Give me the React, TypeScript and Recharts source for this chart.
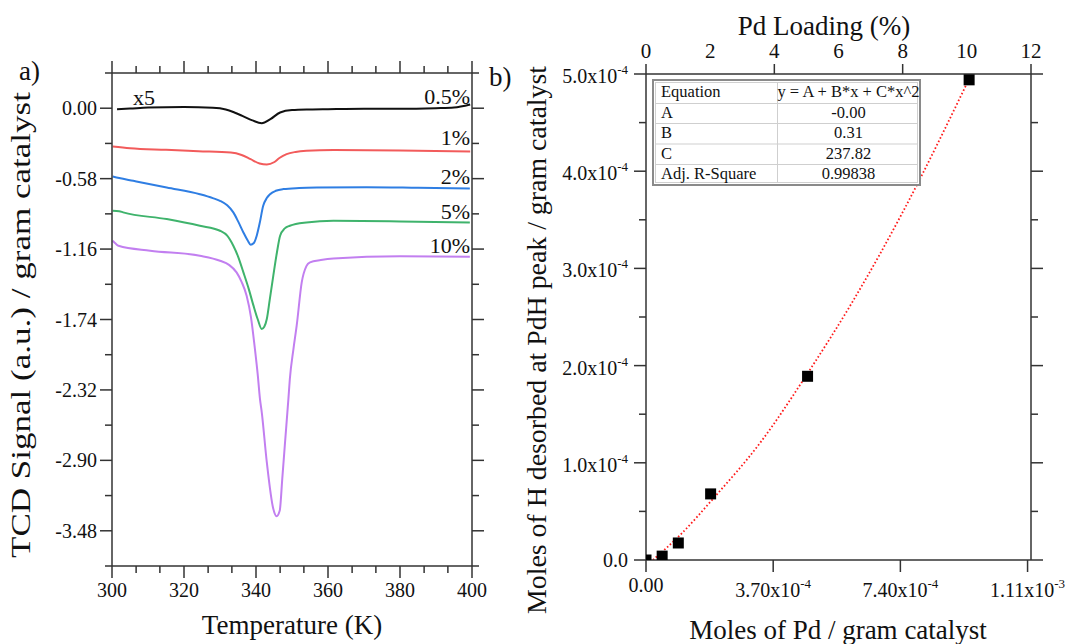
import React from 'react';
import { LineChart, Line, XAxis, YAxis, ComposedChart, Scatter } from 'recharts';

const FONT = '"Liberation Serif", "Times New Roman", Times, serif';
const AX = '#333333';
const TXT = '#111111';

// ---------- Panel a) TPD curves (Temperature K, TCD signal) ----------
const t05 = [301.4, 305, 310, 320, 328, 331.6, 334, 336.2, 339, 341.6, 344, 346.7, 350, 355, 360, 370, 380, 390, 395, 399.5];
const v05 = [-0.008, -0.003, 0.005, 0.009, 0.004, -0.01, -0.035, -0.063, -0.1, -0.123, -0.09, -0.035, -0.015, -0.01, -0.008, -0.005, -0.005, 0.0, 0.005, 0.03];

const t1 = [300.2, 305, 315, 324, 333, 336, 338.5, 341, 343, 345, 346.5, 348.5, 351, 354, 361.5, 380, 399.5];
const v1 = [-0.315, -0.33, -0.343, -0.354, -0.365, -0.385, -0.42, -0.455, -0.463, -0.445, -0.41, -0.378, -0.36, -0.351, -0.345, -0.348, -0.357];

const t2 = [300.2, 302, 305.9, 315.2, 324.4, 328, 330, 332, 333.7, 335, 336.5, 337.7, 338.5, 339.4, 340.2, 341, 342, 343, 343.9, 345.5, 347.6, 352, 356.9, 370.7, 385, 399.4];
const v2 = [-0.562, -0.575, -0.598, -0.653, -0.708, -0.74, -0.763, -0.8, -0.858, -0.93, -1.023, -1.09, -1.124, -1.11, -1.05, -0.95, -0.804, -0.74, -0.708, -0.68, -0.666, -0.657, -0.653, -0.65, -0.655, -0.661];

const t5 = [300.2, 302, 303.1, 315.2, 324.4, 330, 332, 333.7, 335, 336.5, 338, 339.3, 340.5, 341.6, 342.3, 343, 343.8, 344.8, 345.8, 346.7, 348, 349.4, 354, 361.5, 380, 399.4];
const v5 = [-0.845, -0.848, -0.858, -0.913, -0.968, -1.009, -1.05, -1.133, -1.22, -1.352, -1.49, -1.626, -1.74, -1.818, -1.8, -1.736, -1.58, -1.38, -1.19, -1.05, -0.99, -0.968, -0.941, -0.927, -0.932, -0.941];

const t10 = [300.2, 301, 301.8, 310.6, 324.4, 330, 332.5, 334.6, 336, 337.4, 338.6, 339.7, 340.5, 341.1, 341.6, 343, 344.8, 345.7, 346.6, 347.3, 348, 349, 349.4, 350.4, 351.3, 352.7, 354, 355, 358, 361.5, 380, 399.4];
const v10 = [-1.092, -1.115, -1.133, -1.174, -1.215, -1.256, -1.29, -1.352, -1.43, -1.544, -1.72, -1.983, -2.2, -2.394, -2.504, -2.915, -3.299, -3.36, -3.313, -3.05, -2.778, -2.394, -2.23, -1.983, -1.791, -1.434, -1.3, -1.269, -1.25, -1.237, -1.22, -1.223];

const curveNames = ['0.5%', '1%', '2%', '5%', '10%'];
const curveColors = ['#111111', '#f25b5b', '#2f7ee3', '#3fb36c', '#c27ff0'];

const tempTicks = [300, 320, 340, 360, 380, 400];
const tempMinor = [306.7, 313.3, 326.7, 333.3, 346.7, 353.3, 366.7, 373.3, 386.7, 393.3];
const tcdTicks = [-3.48, -2.9, -2.32, -1.74, -1.16, -0.58, 0];
const tcdMinor = [-3.77, -3.19, -2.61, -2.03, -1.45, -0.87, -0.29, 0.29];

// ---------- Panel b) H desorbed vs Pd moles ----------
const molesPd = [0, 4.7e-5, 9.4e-5, 1.88e-4, 4.7e-4, 9.4e-4];
const molesH = [0, 4e-6, 1.75e-5, 6.8e-5, 1.89e-4, 4.94e-4];

const fitX = [2e-5, 1e-4, 2e-4, 3.33e-4, 4.7e-4, 6.03e-4, 7.5e-4, 9.4e-4];
const fitY = [0, 2.6e-5, 6.5e-5, 1.21e-4, 1.92e-4, 2.67e-4, 3.6e-4, 4.95e-4];

const pdTicks = [0, 3.7e-4, 7.4e-4, 1.11e-3];
const pdTickMant = ['0.00', '3.70x10', '7.40x10', '1.11x10'];
const pdTickExp = ['', '-4', '-4', '-3'];

const hTicks = [0, 1e-4, 2e-4, 3e-4, 4e-4, 5e-4];
const hMinor = [0.5e-4, 1.5e-4, 2.5e-4, 3.5e-4, 4.5e-4];
const hTickMant = ['0.0', '1.0x10', '2.0x10', '3.0x10', '4.0x10', '5.0x10'];
const hTickExp = ['', '-4', '-4', '-4', '-4', '-4'];

const loadTicks = [0, 2, 4, 6, 8, 10, 12];
const loadMajor = [0, 4, 8, 12];

const tableLabels = ['Equation', 'A', 'B', 'C', 'Adj. R-Square'];
const tableValues = ['y = A + B*x + C*x^2', '-0.00', '0.31', '237.82', '0.99838'];

// ---------- helpers ----------
const zip = (xs: number[], ys: number[]) => xs.map((x, i) => ({ x, y: ys[i] }));
const near = (a: number, b: number) => Math.abs(a - b) <= 1e-6 * Math.max(Math.abs(a), Math.abs(b)) + 1e-15;
const idxOf = (arr: number[], v: number) => arr.findIndex((m) => near(m, v));

type Side = 'bottom' | 'top' | 'left' | 'right';

function tickMaker(
  side: Side,
  majors: number[],
  majorLen: number,
  minorLen: number,
  label?: (v: number, x: number, y: number) => React.ReactNode,
  labelled?: number[]
) {
  const labVals = labelled || majors;
  return (p: any) => {
    const { x, y, payload } = p;
    const v = payload.value as number;
    const major = idxOf(majors, v) >= 0;
    const showLabel = idxOf(labVals, v) >= 0;
    const len = major ? majorLen : minorLen;
    let x2 = x;
    let y2 = y;
    if (side === 'bottom') y2 = y + len;
    else if (side === 'top') y2 = y - len;
    else if (side === 'left') x2 = x - len;
    else x2 = x + len;
    return (
      <g>
        {len > 0 ? <line x1={x} y1={y} x2={x2} y2={y2} stroke={AX} strokeWidth={1.5} /> : null}
        {showLabel && label ? label(v, x, y) : null}
      </g>
    );
  };
}

const axisLine = { stroke: AX, strokeWidth: 1.5 };

const tempLabel = (v: number, x: number, y: number) => (
  <text x={x} y={y + 31} textAnchor="middle" fontSize={20} fontFamily={FONT} fill={TXT}>
    {String(v)}
  </text>
);
const tcdLabel = (v: number, x: number, y: number) => (
  <text x={x - 15} y={y + 7} textAnchor="end" fontSize={20} fontFamily={FONT} fill={TXT}>
    {v.toFixed(2)}
  </text>
);
const hLabel = (v: number, x: number, y: number) => {
  const i = idxOf(hTicks, v);
  const exp = hTickExp[i];
  return (
    <text x={x - 18} y={y + (exp ? 9 : 7)} textAnchor="end" fontSize={20} fontFamily={FONT} fill={TXT}>
      {hTickMant[i]}
      {exp ? (
        <tspan dy={-9} fontSize={13}>
          {exp}
        </tspan>
      ) : null}
    </text>
  );
};
const pdLabel = (v: number, x: number, y: number) => {
  const i = idxOf(pdTicks, v);
  const exp = pdTickExp[i];
  return (
    <text x={x} y={y + (exp ? 37 : 32)} textAnchor="middle" fontSize={20} fontFamily={FONT} fill={TXT}>
      {pdTickMant[i]}
      {exp ? (
        <tspan dy={-9} fontSize={13}>
          {exp}
        </tspan>
      ) : null}
    </text>
  );
};
const loadLabel = (v: number, x: number, y: number) => (
  <text x={x} y={y - 16} textAnchor="middle" fontSize={21} fontFamily={FONT} fill={TXT}>
    {String(v)}
  </text>
);

const Square = (p: any) => {
  const { cx, cy } = p;
  if (cx == null || cy == null) return <g />;
  return <rect x={cx - 5.5} y={cy - 5.5} width={11} height={11} fill="#000" />;
};

function LeftPanel() {
  const series = [zip(t05, v05), zip(t1, v1), zip(t2, v2), zip(t5, v5), zip(t10, v10)];
  const allTempTicks = [...tempTicks, ...tempMinor].sort((a, b) => a - b);
  const allTcdTicks = [...tcdTicks, ...tcdMinor].sort((a, b) => a - b);
  return (
    <LineChart width={533} height={644} margin={{ top: 53, right: 41, bottom: 48, left: 62 }}>
      <XAxis
        xAxisId="b"
        type="number"
        dataKey="x"
        domain={[300, 400]}
        allowDataOverflow
        ticks={allTempTicks}
        interval={0}
        height={30}
        tickSize={0}
        tickMargin={0}
        tickLine={false}
        axisLine={axisLine}
        tick={tickMaker('bottom', tempTicks, 12, 7, tempLabel)}
      />
      <XAxis
        xAxisId="t"
        orientation="top"
        type="number"
        dataKey="x"
        domain={[300, 400]}
        allowDataOverflow
        ticks={allTempTicks}
        interval={0}
        height={20}
        tickSize={0}
        tickMargin={0}
        tickLine={false}
        axisLine={axisLine}
        tick={tickMaker('top', tempTicks, 12, 7)}
      />
      <YAxis
        yAxisId="l"
        type="number"
        dataKey="y"
        domain={[-3.77, 0.29]}
        allowDataOverflow
        ticks={allTcdTicks}
        interval={0}
        width={50}
        tickSize={0}
        tickMargin={0}
        tickLine={false}
        axisLine={axisLine}
        tick={tickMaker('left', tcdTicks, 12, 7, tcdLabel)}
      />
      <YAxis
        yAxisId="r"
        orientation="right"
        type="number"
        dataKey="y"
        domain={[-3.77, 0.29]}
        allowDataOverflow
        ticks={allTcdTicks}
        interval={0}
        width={20}
        tickSize={0}
        tickMargin={0}
        tickLine={false}
        axisLine={axisLine}
        tick={tickMaker('right', tcdTicks, 12, 7)}
      />
      {series.map((d, i) => (
        <Line
          key={curveNames[i]}
          name={curveNames[i]}
          data={d}
          dataKey="y"
          xAxisId="b"
          yAxisId="l"
          type="monotone"
          stroke={curveColors[i]}
          strokeWidth={2}
          dot={false}
          activeDot={false}
          isAnimationActive={false}
        />
      ))}
    </LineChart>
  );
}

function RightPanel() {
  const pts = zip(molesPd, molesH);
  const fit = zip(fitX, fitY);
  const allH = [...hTicks, ...hMinor].sort((a, b) => a - b);
  return (
    <ComposedChart width={534} height={644} margin={{ top: 54, right: 16, bottom: 54, left: 63 }}>
      <XAxis
        xAxisId="b"
        type="number"
        dataKey="x"
        domain={[0, 1.12e-3]}
        allowDataOverflow
        ticks={pdTicks}
        interval={0}
        height={30}
        tickSize={0}
        tickMargin={0}
        tickLine={false}
        axisLine={axisLine}
        tick={tickMaker('bottom', pdTicks, 12, 7, pdLabel)}
      />
      <XAxis
        xAxisId="t"
        orientation="top"
        type="number"
        dataKey="x"
        domain={[0, 12]}
        allowDataOverflow
        ticks={loadTicks}
        interval={0}
        height={20}
        tickSize={0}
        tickMargin={0}
        tickLine={false}
        axisLine={axisLine}
        tick={tickMaker('top', loadMajor, 10, 0, loadLabel, loadTicks)}
      />
      <YAxis
        yAxisId="l"
        type="number"
        dataKey="y"
        domain={[0, 5e-4]}
        allowDataOverflow
        ticks={allH}
        interval={0}
        width={50}
        tickSize={0}
        tickMargin={0}
        tickLine={false}
        axisLine={axisLine}
        tick={tickMaker('left', hTicks, 12, 7, hLabel)}
      />
      <YAxis
        yAxisId="r"
        orientation="right"
        type="number"
        dataKey="y"
        domain={[0, 5e-4]}
        allowDataOverflow
        ticks={allH}
        interval={0}
        width={20}
        tickSize={0}
        tickMargin={0}
        tickLine={false}
        axisLine={axisLine}
        tick={tickMaker('right', hTicks, 12, 7)}
      />
      <Line
        data={fit}
        dataKey="y"
        xAxisId="b"
        yAxisId="l"
        type="monotone"
        stroke="#ff1a1a"
        strokeWidth={1.8}
        strokeDasharray="1.6 2.2"
        dot={false}
        activeDot={false}
        isAnimationActive={false}
      />
      <Scatter
        data={pts}
        dataKey="y"
        xAxisId="b"
        yAxisId="l"
        fill="#000"
        shape={Square}
        isAnimationActive={false}
      />
    </ComposedChart>
  );
}

function Overlay() {
  const rowB = [97, 117.5, 138, 158.5, 179];
  const rowLines = [103.5, 123.5, 144, 164.5];
  const tx = { fontFamily: FONT, fill: TXT } as const;
  return (
    <svg width={1067} height={644} style={{ position: 'absolute', left: 0, top: 0, pointerEvents: 'none' }}>
      <text x={19} y={80} fontSize={27} {...tx}>a)</text>
      <text x={489} y={86} fontSize={27} {...tx}>b)</text>

      <text x={292} y={634} fontSize={27} textAnchor="middle" {...tx}>Temperature (K)</text>
      <text
        transform="translate(30,325) rotate(-90)"
        fontSize={27}
        textAnchor="middle"
        textLength={466}
        lengthAdjust="spacingAndGlyphs"
        {...tx}
      >
        TCD Signal (a.u.) / gram catalyst
      </text>

      <text x={824} y={35} fontSize={27} textAnchor="middle" {...tx}>Pd Loading (%)</text>
      <text x={838} y={639} fontSize={27} textAnchor="middle" {...tx}>Moles of Pd / gram catalyst</text>
      <text
        transform="translate(546,340) rotate(-90)"
        fontSize={27}
        textAnchor="middle"
        textLength={548}
        lengthAdjust="spacingAndGlyphs"
        {...tx}
      >
        Moles of H desorbed at PdH peak / gram catalyst
      </text>

      <text x={133} y={105} fontSize={22} {...tx}>x5</text>
      <text x={470} y={104} fontSize={22} textAnchor="end" {...tx}>{curveNames[0]}</text>
      <text x={470} y={145} fontSize={22} textAnchor="end" {...tx}>{curveNames[1]}</text>
      <text x={470} y={184} fontSize={22} textAnchor="end" {...tx}>{curveNames[2]}</text>
      <text x={470} y={219} fontSize={22} textAnchor="end" {...tx}>{curveNames[3]}</text>
      <text x={470} y={253} fontSize={22} textAnchor="end" {...tx}>{curveNames[4]}</text>

      <g>
        <rect x={653} y={80} width={267} height={105} fill="#fff" stroke="#8a8a8a" strokeWidth={2} />
        <rect x={655.5} y={82.5} width={262} height={100} fill="none" stroke="#d0d0d0" strokeWidth={1} />
        {rowLines.map((y) => (
          <line key={y} x1={655.5} x2={917.5} y1={y} y2={y} stroke="#cfcfcf" strokeWidth={1} />
        ))}
        <line x1={777.5} x2={777.5} y1={82.5} y2={182.5} stroke="#cfcfcf" strokeWidth={1} />
        {tableLabels.map((l, i) => (
          <text key={l} x={661} y={rowB[i]} fontSize={16.5} {...tx}>{l}</text>
        ))}
        {tableValues.map((v, i) => (
          <text key={i} x={848.5} y={rowB[i]} fontSize={16.5} textAnchor="middle" {...tx}>{v}</text>
        ))}
      </g>
    </svg>
  );
}

export default function App() {
  return (
    <div style={{ position: 'absolute', left: 0, top: 0, width: 1067, height: 644, background: '#fff', overflow: 'hidden' }}>
      <div style={{ position: 'absolute', left: 0, top: 0 }}>
        <LeftPanel />
      </div>
      <div style={{ position: 'absolute', left: 533, top: 0 }}>
        <RightPanel />
      </div>
      <Overlay />
    </div>
  );
}
